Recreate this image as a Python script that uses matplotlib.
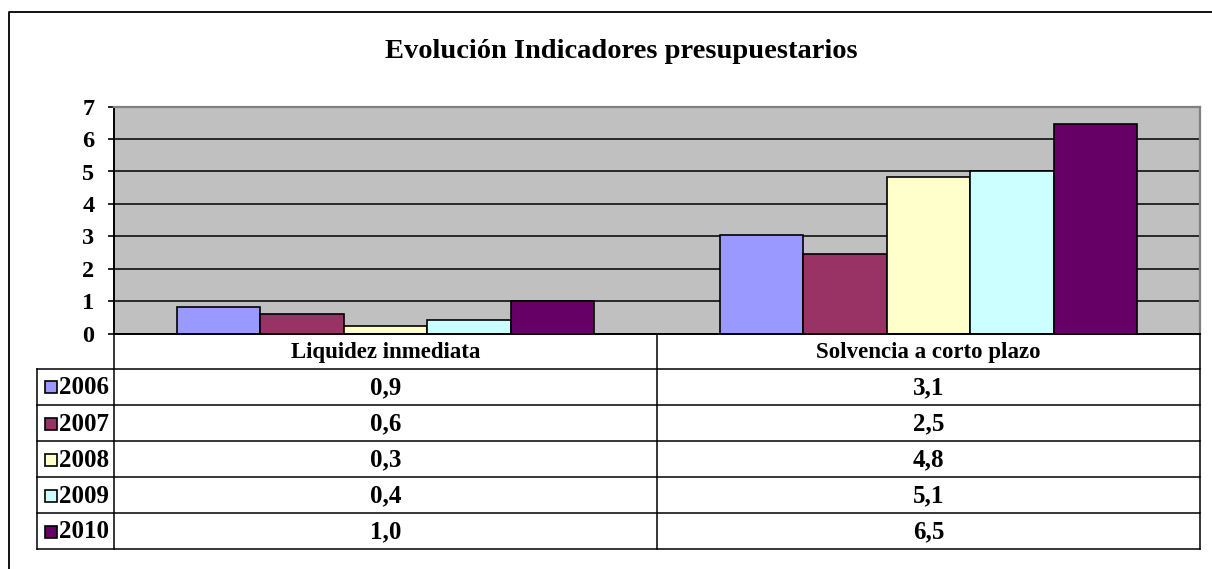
import matplotlib.pyplot as plt
import numpy as np

# chart data
title = "Evolución Indicadores presupuestarios"
categories = ["Liquidez inmediata", "Solvencia a corto plazo"]
years = ["2006", "2007", "2008", "2009", "2010"]
colors = ["#9999FF", "#993366", "#FFFFCC", "#CCFFFF", "#660066"]

# bar heights
liquidez = [0.83, 0.60, 0.24, 0.43, 0.99]
solvencia = [3.03, 2.45, 4.83, 5.00, 6.47]

# text shown in the data table
liquidez_txt = ["0,9", "0,6", "0,3", "0,4", "1,0"]
solvencia_txt = ["3,1", "2,5", "4,8", "5,1", "6,5"]

W, H = 1212, 569
plt.rcParams['font.family'] = ['Liberation Serif', 'DejaVu Serif']
plt.rcParams['font.weight'] = 'bold'

fig = plt.figure(figsize=(W / 100, H / 100), dpi=100)

# overlay in pixel coords for frame, title and data table
lay = fig.add_axes([0, 0, 1, 1])
lay.set_xlim(0, W)
lay.set_ylim(H, 0)
lay.axis('off')

# outer frame (only left and top visible)
lay.plot([8.5, 8.5, W + 5], [H + 5, 11.5, 11.5], color='black', lw=1.3)

lay.text(621, 51, title, ha='center', va='center', fontsize=20.5,
         fontweight='bold')

# plot area (pixel box)
px0, px1, py0, py1 = 114, 1200, 106.7, 333.5
ax = fig.add_axes([px0 / W, 1 - py1 / H, (px1 - px0) / W, (py1 - py0) / H])
ax.set_facecolor('#C0C0C0')

n = len(years)
bw = 1 / (n + 1.5)
x = np.arange(len(categories))
for i in range(n):
    vals = [liquidez[i], solvencia[i]]
    ax.bar(x + (i - (n - 1) / 2) * bw, vals, width=bw, color=colors[i],
           edgecolor='black', linewidth=1.2, zorder=2)

ax.set_xlim(-0.5, 1.5)
ax.set_ylim(0, 7)
ax.set_yticks(range(8))
ax.set_xticks([])
ax.set_axisbelow(True)
ax.yaxis.grid(True, color='black', lw=1.1)
ax.tick_params(axis='y', length=4, width=1.2, pad=10)
for lab in ax.get_yticklabels():
    lab.set_fontweight('bold')
    lab.set_fontsize(17.5)
for s in ['top', 'right']:
    ax.spines[s].set_color('#808080')
    ax.spines[s].set_linewidth(1.6)
for s in ['left', 'bottom']:
    ax.spines[s].set_color('black')
    ax.spines[s].set_linewidth(1.4)

# data table below the plot
xm = 657
row_y = [368.5, 405, 441, 477, 513, 549]
lc = 'black'
tl = 1.1
lay.plot([px0, px0], [py1, row_y[-1]], color=lc, lw=tl)
lay.plot([xm, xm], [py1, row_y[-1]], color=lc, lw=tl)
lay.plot([px1, px1], [py1, row_y[-1]], color=lc, lw=tl)
lay.plot([37, 37], [row_y[0], row_y[-1]], color=lc, lw=tl)
for y in row_y:
    lay.plot([37, px1], [y, y], color=lc, lw=tl)

fs = 18
fs_head = 16.5
lay.text((px0 + xm) / 2, (py1 + row_y[0]) / 2 + 1, categories[0],
         ha='center', va='center', fontsize=fs_head, fontweight='bold')
lay.text((xm + px1) / 2, (py1 + row_y[0]) / 2 + 1, categories[1],
         ha='center', va='center', fontsize=fs_head, fontweight='bold')

for i in range(n):
    yc = (row_y[i] + row_y[i + 1]) / 2 + 1
    lay.add_patch(plt.Rectangle((44.5, yc - 6.5), 12, 12, facecolor=colors[i],
                                edgecolor='black', lw=1.2))
    lay.text(59, yc, years[i], ha='left', va='center', fontsize=fs,
             fontweight='bold')
    lay.text((px0 + xm) / 2, yc, liquidez_txt[i], ha='center', va='center',
             fontsize=fs, fontweight='bold')
    lay.text((xm + px1) / 2, yc, solvencia_txt[i], ha='center', va='center',
             fontsize=fs, fontweight='bold')

fig.savefig('out.png', dpi=100)
